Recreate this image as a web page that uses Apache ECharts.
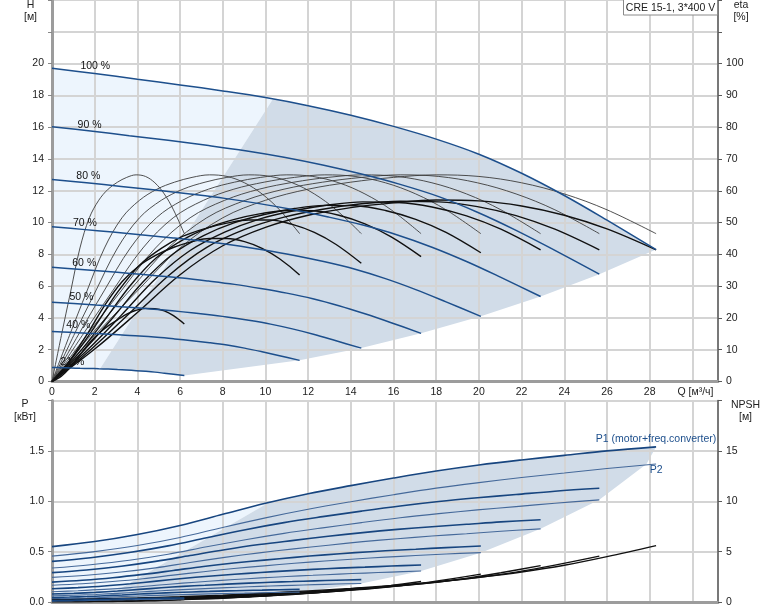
<!DOCTYPE html>
<html><head><meta charset="utf-8">
<script src="https://cdn.jsdelivr.net/npm/echarts@6/dist/echarts.min.js"></script>
<style>html,body{margin:0;padding:0;background:#fff}#c{width:774px;height:611px}</style>
</head><body><div id="c"></div>
<script>
// ---------- data ----------
const speedLabels = ['100 %','90 %','80 %','70 %','60 %','50 %','40 %','21 %'];
const labelQ = [1.33, 1.2, 1.14, 0.98, 0.95, 0.82, 0.67, 0.39];
const labelH = [19.81, 16.14, 12.89, 9.96, 7.42, 5.28, 3.55, 1.25];
const xTicksMax = 28;

const q100 = [0,2,4,6,8,10,12,14,16,18,20,22,24,26,28.3];
const q90  = [0,1.81,3.62,5.44,7.25,9.06,10.87,12.68,14.5,16.31,18.12,19.93,21.74,23.56,25.64];
const q80  = [0,1.62,3.24,4.85,6.47,8.09,9.71,11.33,12.94,14.56,16.18,17.8,19.42,21.03,22.89];
const q70  = [0,1.42,2.84,4.26,5.68,7.1,8.52,9.94,11.36,12.78,14.2,15.62,17.04,18.46,20.09];
const q60  = [0,1.22,2.44,3.67,4.89,6.11,7.33,8.55,9.78,11.0,12.22,13.44,14.66,15.89,17.29];
const q50  = [0,1.02,2.05,3.07,4.1,5.12,6.14,7.17,8.19,9.22,10.24,11.26,12.29,13.31,14.49];
const q40  = [0,0.82,1.64,2.46,3.28,4.1,4.92,5.74,6.56,7.38,8.2,9.02,9.84,10.66,11.6];
const q21  = [0,0.44,0.88,1.31,1.75,2.19,2.63,3.07,3.5,3.94,4.38,4.82,5.26,5.69,6.2];

const h100 = [19.7,19.38,19.02,18.66,18.28,17.86,17.35,16.75,16.05,15.25,14.3,13.1,11.7,10.15,8.3];
const h90  = [16.02,15.76,15.46,15.17,14.86,14.52,14.11,13.62,13.05,12.40,11.63,10.65,9.51,8.25,6.75];
const h80  = [12.71,12.50,12.27,12.04,11.79,11.52,11.19,10.80,10.35,9.84,9.22,8.45,7.55,6.55,5.35];
const h70  = [9.73,9.57,9.40,9.22,9.03,8.82,8.57,8.27,7.93,7.53,7.06,6.47,5.78,5.01,4.10];
const h60  = [7.18,7.06,6.93,6.80,6.66,6.51,6.32,6.11,5.85,5.56,5.21,4.77,4.26,3.70,3.03];
const h50  = [4.98,4.90,4.81,4.72,4.62,4.51,4.38,4.23,4.06,3.85,3.61,3.31,2.96,2.56,2.10];
const h40  = [3.15,3.10,3.04,2.99,2.92,2.86,2.78,2.68,2.57,2.44,2.29,2.10,1.87,1.62,1.33];
const h21  = [0.88,0.87,0.85,0.83,0.82,0.80,0.78,0.75,0.72,0.68,0.64,0.59,0.52,0.45,0.37];

// pump efficiency (thin curves), same at every speed on its own Q scale
const etaPump = [0,14.5,28.5,42,51.5,57,60.5,62.7,64.2,65,64.5,62.5,59,54,46.5];
// total efficiency (thick curves)
const etaTot100 = [0,10.2,21.7,33.6,42.7,48.5,52.3,54.7,56.2,57.1,56.8,55.2,52.3,48.0,41.4];
const etaTot90  = [0,10.0,21.4,33.2,42.2,47.9,51.7,54.2,55.9,56.7,56.5,55.0,52.2,47.9,41.4];
const etaTot80  = [0,9.7,20.8,32.3,41.2,47.0,51.1,53.7,55.5,56.5,56.3,54.9,52.1,47.9,41.4];
const etaTot70  = [0,9.3,20.0,31.3,40.2,45.9,49.9,52.5,54.4,55.4,55.3,53.8,51.0,46.9,40.5];
const etaTot60  = [0,8.7,19.1,30.2,38.9,44.5,48.4,51.0,52.8,53.8,53.7,52.3,49.6,45.5,39.3];
const etaTot50  = [0,8.0,17.7,28.1,36.6,41.9,45.7,48.1,49.8,50.8,50.8,49.4,46.9,43.1,37.2];
const etaTot40  = [0,6.5,14.8,23.9,31.4,36.5,39.9,42.3,44.0,45.0,45.0,44.0,41.9,38.6,33.5];
const etaTot21  = [0,1.7,4.6,8.4,12.1,15.1,17.5,19.4,21.2,22.4,23.0,22.9,22.2,20.7,18.1];

// power P1 (motor+freq.converter) and P2, kW
const p1_100 = [0.55,0.60,0.67,0.76,0.87,0.98,1.075,1.155,1.23,1.30,1.36,1.41,1.455,1.50,1.54];
const p1_90  = [0.403,0.44,0.491,0.557,0.638,0.718,0.788,0.847,0.902,0.953,0.997,1.034,1.067,1.10,1.129];
const p1_80  = [0.292,0.318,0.355,0.403,0.461,0.519,0.57,0.612,0.652,0.689,0.721,0.747,0.771,0.795,0.816];
const p1_70  = [0.197,0.216,0.241,0.274,0.313,0.353,0.387,0.416,0.443,0.468,0.49,0.508,0.524,0.54,0.556];
const p1_60  = [0.131,0.143,0.159,0.181,0.207,0.233,0.256,0.275,0.293,0.309,0.324,0.336,0.346,0.357,0.367];
const p1_50  = [0.079,0.086,0.096,0.109,0.125,0.141,0.155,0.166,0.177,0.187,0.196,0.203,0.21,0.216,0.222];
const p1_40  = [0.045,0.049,0.054,0.062,0.07,0.079,0.087,0.094,0.1,0.105,0.11,0.114,0.118,0.122,0.125];
const p1_21  = [0.014,0.016,0.017,0.02,0.023,0.025,0.028,0.03,0.032,0.034,0.035,0.037,0.038,0.039,0.04];
const p2_100 = [0.455,0.50,0.56,0.64,0.74,0.835,0.92,0.995,1.065,1.13,1.185,1.235,1.28,1.325,1.37];
const p2_90  = [0.337,0.37,0.414,0.474,0.548,0.618,0.681,0.736,0.788,0.836,0.877,0.914,0.947,0.98,1.014];
const p2_80  = [0.244,0.265,0.297,0.339,0.392,0.443,0.488,0.527,0.564,0.599,0.628,0.655,0.678,0.702,0.726];
const p2_70  = [0.166,0.181,0.203,0.231,0.267,0.301,0.332,0.359,0.384,0.407,0.427,0.445,0.461,0.477,0.49];
const p2_60  = [0.102,0.112,0.125,0.143,0.166,0.187,0.206,0.223,0.239,0.253,0.265,0.277,0.287,0.297,0.307];
const p2_50  = [0.061,0.067,0.075,0.086,0.099,0.112,0.123,0.133,0.143,0.151,0.159,0.165,0.172,0.178,0.184];
const p2_40  = [0.033,0.036,0.04,0.046,0.053,0.06,0.066,0.071,0.076,0.081,0.085,0.088,0.092,0.095,0.098];
const p2_21  = [0.009,0.01,0.011,0.013,0.015,0.017,0.019,0.021,0.022,0.024,0.025,0.026,0.027,0.029,0.03];

// NPSH, m
const npsh100 = [0.3,0.33,0.4,0.52,0.68,0.88,1.1,1.35,1.65,2.0,2.45,2.98,3.65,4.5,5.6];
const npsh90  = [0.24,0.27,0.33,0.42,0.55,0.72,0.89,1.10,1.34,1.63,1.99,2.42,2.97,3.66,4.55];
const npsh80  = [0.19,0.21,0.26,0.34,0.44,0.57,0.71,0.87,1.06,1.29,1.58,1.92,2.35,2.90,3.61];
const npsh70  = [0.15,0.16,0.20,0.26,0.34,0.43,0.54,0.67,0.82,0.99,1.21,1.47,1.80,2.22,2.77];
const npsh60  = [0.11,0.12,0.15,0.19,0.25,0.32,0.40,0.49,0.60,0.73,0.89,1.09,1.33,1.64,2.04];
const npsh50  = [0.08,0.08,0.10,0.13,0.17,0.22,0.28,0.34,0.42,0.51,0.62,0.75,0.92,1.14,1.42];
const npsh40  = [0.05,0.05,0.06,0.08,0.11,0.14,0.18,0.22,0.26,0.32,0.39,0.48,0.58,0.72,0.90];
const npsh21  = [0.01,0.01,0.02,0.02,0.03,0.04,0.05,0.06,0.07,0.09,0.11,0.13,0.16,0.20,0.25];

// shaded zone limits
const zoneTopDiag = [[2.25,0.80],[10.35,17.77]];
const zoneBotDiag = [[2.25,0.017],[10.1,0.98]];
const zoneBotCorner = [27.85,1.37];

// ---------- build ----------
const qs = [q100,q90,q80,q70,q60,q50,q40,q21];
const hs = [h100,h90,h80,h70,h60,h50,h40,h21];
const ets = [etaTot100,etaTot90,etaTot80,etaTot70,etaTot60,etaTot50,etaTot40,etaTot21];
const p1s = [p1_100,p1_90,p1_80,p1_70,p1_60,p1_50,p1_40,p1_21];
const p2s = [p2_100,p2_90,p2_80,p2_70,p2_60,p2_50,p2_40,p2_21];
const nps = [npsh100,npsh90,npsh80,npsh70,npsh60,npsh50,npsh40,npsh21];
const zip = (xs, ys) => xs.map((x,i)=>[x, ys[i]]);
const last = a => a[a.length-1];

const FONT = '"Liberation Sans", Arial, sans-serif';
const BLUE = '#1d4f8c';
const LIGHT = '#edf5fd';
const DARK = '#d1dce8';
const GRIDC = '#d4d4d4';

function poly(pts, color, xi, yi) {
  return {type:'custom', xAxisIndex:xi, yAxisIndex:yi, z:0, silent:true, clip:true,
    data:[[0,0]],
    renderItem:(params, api)=>({type:'polygon', shape:{points: pts.map(p=>api.coord(p))}, style:{fill:color}})};
}
function line(data, xi, yi, color, width, extra) {
  return Object.assign({type:'line', xAxisIndex:xi, yAxisIndex:yi, data, smooth:0.35, showSymbol:false, symbol:'none',
    silent:true, lineStyle:{color, width}, z:3}, extra||{});
}

const lightTop = [
  ...zip(q100,h100).filter(p=>p[0] < zoneTopDiag[1][0]),
  zoneTopDiag[1], zoneTopDiag[0],
  ...zip(q21,h21).filter(p=>p[0] < zoneTopDiag[0][0]).reverse()
];
const darkTop = [
  zoneTopDiag[0], zoneTopDiag[1],
  ...zip(q100,h100).filter(p=>p[0] > zoneTopDiag[1][0]),
  ...qs.slice(1).map((q,i)=>[last(q), last(hs[i+1])]),
  ...zip(q21,h21).filter(p=>p[0] > zoneTopDiag[0][0] && p[0] < last(q21)).reverse()
];
const lightBot = [
  ...zip(q100,p1_100).filter(p=>p[0] < zoneBotDiag[1][0]),
  zoneBotDiag[1], zoneBotDiag[0],
  ...zip(q21,p2_21).filter(p=>p[0] < zoneBotDiag[0][0]).reverse()
];
const darkBot = [
  zoneBotDiag[0], zoneBotDiag[1],
  ...zip(q100,p1_100).filter(p=>p[0] > zoneBotDiag[1][0]),
  zoneBotCorner,
  ...qs.slice(1).map((q,i)=>[last(q), last(p2s[i+1])]),
  ...zip(q21,p2_21).filter(p=>p[0] > zoneBotDiag[0][0] && p[0] < last(q21)).reverse()
];

const series = [];
series.push(poly(lightTop, LIGHT, 0, 0), poly(darkTop, DARK, 0, 0));
series.push(poly(lightBot, LIGHT, 1, 2), poly(darkBot, DARK, 1, 2));
qs.forEach((q,i)=>series.push(line(zip(q, etaPump), 0, 1, '#3c3c3c', 0.9)));
qs.forEach((q,i)=>series.push(line(zip(q, ets[i]), 0, 1, '#111', 1.4)));
qs.forEach((q,i)=>series.push(line(zip(q, hs[i]), 0, 0, BLUE, 1.5)));
qs.forEach((q,i)=>series.push(line(zip(q, nps[i]), 1, 3, '#111', 1.4)));
qs.forEach((q,i)=>series.push(line(zip(q, p2s[i]), 1, 2, '#45699a', 1.1, i===0 ? {
  markPoint:{symbol:'circle', symbolSize:0, data:[{coord:[last(q), last(p2s[i])]}],
    label:{show:true, position:'bottom', distance:1, formatter:'P2', color:BLUE, fontSize:10.5, fontFamily:FONT}}} : {})));
qs.forEach((q,i)=>series.push(line(zip(q, p1s[i]), 1, 2, '#17457f', 1.6, i===0 ? {
  markPoint:{symbol:'circle', symbolSize:0, data:[{coord:[last(q), last(p1s[i])]}],
    label:{show:true, position:'top', distance:2, formatter:'P1 (motor+freq.converter)', color:BLUE, fontSize:10.5, fontFamily:FONT}}} : {})));
series.push({type:'scatter', xAxisIndex:0, yAxisIndex:0, symbolSize:0, silent:true, z:5,
  data: speedLabels.map((s,i)=>[labelQ[i], labelH[i], s]),
  itemStyle:{opacity:1},
  label:{show:true, position:'right', distance:0, formatter:p=>p.data[2], color:'#111', opacity:1, fontSize:10.5, fontFamily:FONT}});

const lab = {color:'#222', fontSize:10.5, fontFamily:FONT};
const option = {
  animation:false,
  backgroundColor:'#fff',
  grid:[
    {left:52, top:0, width:666, height:381.5},
    {left:52, top:400.5, width:666, height:201.5}
  ],
  xAxis:[
    {gridIndex:0, type:'value', min:0, max:31.2, interval:2, z:1,
      axisLine:{show:true, onZero:false, lineStyle:{color:'#9c9c9c', width:3}},
      axisTick:{show:false},
      axisLabel:Object.assign({margin:5, formatter:v=> v<=xTicksMax ? String(v) : ''}, lab),
      splitLine:{show:true, lineStyle:{color:GRIDC, width:2}}},
    {gridIndex:1, type:'value', min:0, max:31.2, interval:2, z:1,
      axisLine:{show:true, onZero:false, lineStyle:{color:'#9c9c9c', width:3}},
      axisTick:{show:false}, axisLabel:{show:false},
      splitLine:{show:true, lineStyle:{color:GRIDC, width:2}}}
  ],
  yAxis:[
    {gridIndex:0, type:'value', min:0, max:24, interval:2, position:'left', z:1,
      axisLine:{show:true, onZero:false, lineStyle:{color:'#9c9c9c', width:3}},
      axisTick:{show:true, length:4, lineStyle:{color:'#888'}},
      axisLabel:Object.assign({margin:8, formatter:v=> v<=20 ? String(v) : ''}, lab),
      splitLine:{show:true, lineStyle:{color:GRIDC, width:2}}},
    {gridIndex:0, type:'value', min:0, max:120, interval:10, position:'right', z:1,
      axisLine:{show:true, onZero:false, lineStyle:{color:'#5a5a5a', width:1.5}},
      axisTick:{show:true, length:4, lineStyle:{color:'#5a5a5a'}},
      axisLabel:Object.assign({margin:8, formatter:v=> v<=100 ? String(v) : ''}, lab),
      splitLine:{show:false}},
    {gridIndex:1, type:'value', min:0, max:2, interval:0.5, position:'left', z:1,
      axisLine:{show:true, onZero:false, lineStyle:{color:'#9c9c9c', width:3}},
      axisTick:{show:true, length:4, lineStyle:{color:'#888'}},
      axisLabel:Object.assign({margin:8, formatter:v=> v<2 ? v.toFixed(1) : ''}, lab),
      splitLine:{show:true, lineStyle:{color:GRIDC, width:2}}},
    {gridIndex:1, type:'value', min:0, max:20, interval:5, position:'right', z:1,
      axisLine:{show:true, onZero:false, lineStyle:{color:'#5a5a5a', width:1.5}},
      axisTick:{show:true, length:4, lineStyle:{color:'#5a5a5a'}},
      axisLabel:Object.assign({margin:8, formatter:v=> v<20 ? String(v) : ''}, lab),
      splitLine:{show:false}}
  ],
  graphic:[
    {type:'rect', shape:{x:623.5, y:-0.5, width:94, height:15.5}, style:{fill:'#fff', stroke:'#8a8a8a', lineWidth:1}, z:100},
    {type:'text', x:670.5, y:8, z:101, style:{text:'CRE 15-1, 3*400 V', font:'10.5px "Liberation Sans", Arial', fill:'#222', textAlign:'center', textVerticalAlign:'middle', align:'center', verticalAlign:'middle'}},
    {type:'text', x:30.5, y:5, z:101, style:{text:'H', font:'10.5px "Liberation Sans", Arial', fill:'#222', textAlign:'center', textVerticalAlign:'middle', align:'center', verticalAlign:'middle'}},
    {type:'text', x:30.5, y:17.5, z:101, style:{text:'[м]', font:'10.5px "Liberation Sans", Arial', fill:'#222', textAlign:'center', textVerticalAlign:'middle', align:'center', verticalAlign:'middle'}},
    {type:'text', x:741, y:5, z:101, style:{text:'eta', font:'10.5px "Liberation Sans", Arial', fill:'#222', textAlign:'center', textVerticalAlign:'middle', align:'center', verticalAlign:'middle'}},
    {type:'text', x:741, y:17.5, z:101, style:{text:'[%]', font:'10.5px "Liberation Sans", Arial', fill:'#222', textAlign:'center', textVerticalAlign:'middle', align:'center', verticalAlign:'middle'}},
    {type:'text', x:25, y:404, z:101, style:{text:'P', font:'10.5px "Liberation Sans", Arial', fill:'#222', textAlign:'center', textVerticalAlign:'middle', align:'center', verticalAlign:'middle'}},
    {type:'text', x:25, y:417, z:101, style:{text:'[кВт]', font:'10.5px "Liberation Sans", Arial', fill:'#222', textAlign:'center', textVerticalAlign:'middle', align:'center', verticalAlign:'middle'}},
    {type:'text', x:745.5, y:405, z:101, style:{text:'NPSH', font:'10.5px "Liberation Sans", Arial', fill:'#222', textAlign:'center', textVerticalAlign:'middle', align:'center', verticalAlign:'middle'}},
    {type:'text', x:745.5, y:417.5, z:101, style:{text:'[м]', font:'10.5px "Liberation Sans", Arial', fill:'#222', textAlign:'center', textVerticalAlign:'middle', align:'center', verticalAlign:'middle'}},
    {type:'text', x:695.5, y:392, z:101, style:{text:'Q [м³/ч]', font:'10.5px "Liberation Sans", Arial', fill:'#222', textAlign:'center', textVerticalAlign:'middle', align:'center', verticalAlign:'middle'}}
  ],
  series
};
const chart = echarts.init(document.getElementById('c'), null, {width:774, height:611});
chart.setOption(option);
</script>
</body></html>
